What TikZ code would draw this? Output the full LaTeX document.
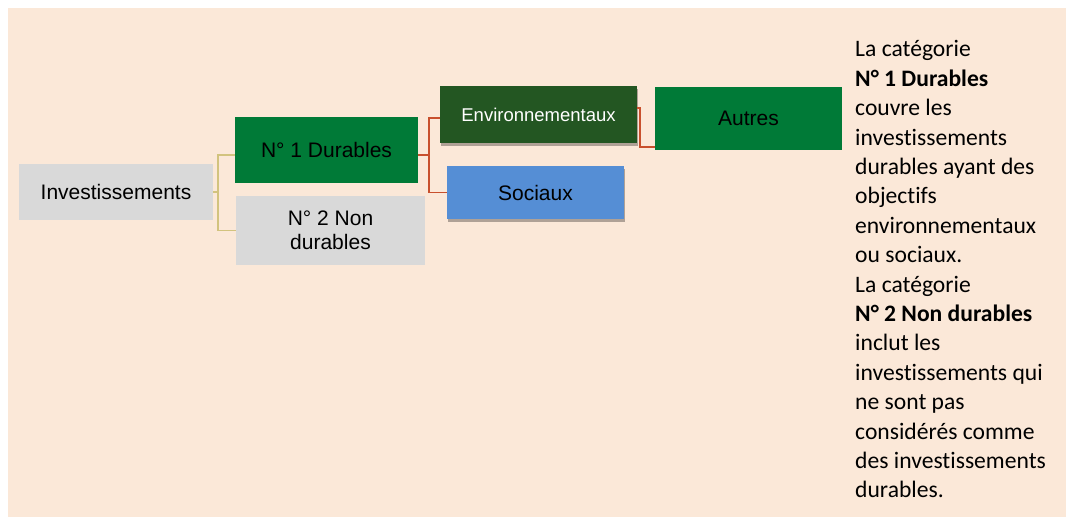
\documentclass[tikz,border=0pt]{standalone}
\usepackage{fontspec}
\setmainfont{Liberation Sans}
\newfontfamily\notefont[Ligatures=NoCommon]{Carlito}
\usepackage{xcolor}
\usepackage{tikz}
\usetikzlibrary{shadows}

\definecolor{fond}{HTML}{FBE8D8}
\definecolor{grisbox}{HTML}{D9D9D9}
\definecolor{vertdur}{HTML}{007A37}
\definecolor{vertenv}{HTML}{235622}
\definecolor{bleusoc}{HTML}{558ED5}
\definecolor{lienrouge}{HTML}{C8502D}
\definecolor{lienolive}{HTML}{D2C37E}

\begin{document}
\begin{tikzpicture}[x=1pt,y=-1pt,
    box/.style={rectangle,inner sep=0pt,align=center,font=\fontsize{21}{24}\selectfont},
    ombre/.style={drop shadow={shadow xshift=1pt,shadow yshift=-3pt,opacity=0.3,fill=black}},
    lien/.style={line width=1.5pt}]
    \useasboundingbox (0,0) rectangle (1066,517);
    \fill[fond] (8,8) rectangle (1066,517);

    \node[box,fill=grisbox,minimum width=194pt,minimum height=56pt] (inv) at (116,192) {Investissements};
    \node[box,fill=vertdur,minimum width=183pt,minimum height=66pt] (dur) at (326.5,150) {N° 1 Durables};
    \node[box,fill=grisbox,minimum width=189pt,minimum height=69pt] (nondur) at (330.5,230.5) {N° 2 Non\\durables};
    \node[box,ombre,fill=vertenv,text=white,minimum width=197pt,minimum height=57pt,
        font=\fontsize{18.5}{22}\selectfont] (env) at (538.5,114.5) {Environnementaux};
    \node[box,ombre,fill=bleusoc,minimum width=177pt,minimum height=53pt] (soc) at (535.5,192.5) {Sociaux};
    \node[box,fill=vertdur,minimum width=187pt,minimum height=63pt] (autres) at (748.5,118.5) {Autres};

    \node[anchor=north west,align=left,inner sep=0pt,
        font=\notefont\fontsize{23.6}{29.4}\selectfont] (note) at (855,40.4) {La catégorie\\
        \textbf{N° 1 Durables}\\
        couvre les\\
        investissements\\
        durables ayant des\\
        objectifs\\
        environnementaux\\
        ou sociaux.\\
        La catégorie\\
        \textbf{N° 2 Non durables}\\
        inclut les\\
        investissements qui\\
        ne sont pas\\
        considérés comme\\
        des investissements\\
        durables.};

    \draw[lien,lienolive] (inv.east) -- ++(5,0) coordinate (j1);
    \draw[lien,lienolive] (j1) |- ([yshift=-5pt]dur.west);
    \draw[lien,lienolive] (j1) |- (nondur.west);

    \draw[lien,lienrouge] ([yshift=-5pt]dur.east) -- ++(11,0) coordinate (j2);
    \draw[lien,lienrouge] (j2) |- ([yshift=-3.5pt]env.west);
    \draw[lien,lienrouge] (j2) |- (soc.west);
    \draw[lien,lienrouge] ([yshift=6.5pt]env.east) -- ++(3,0) |- ([yshift=-28.5pt]autres.west);
\end{tikzpicture}
\end{document}
